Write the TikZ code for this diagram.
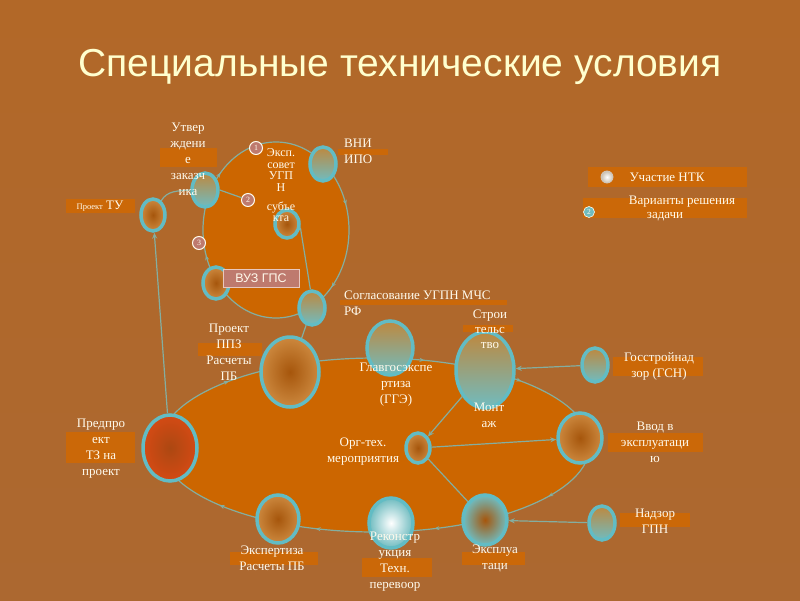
\documentclass[tikz,border=0pt]{standalone}
\usepackage{fontspec}
\setmainfont{Liberation Serif}
\newfontfamily\titlefont{Liberation Sans}
\newfontfamily\boxfont{Liberation Sans}
\usetikzlibrary{shapes.geometric,arrows.meta,decorations.markings}
\definecolor{bgA}{RGB}{178,104,40}
\definecolor{bgB}{RGB}{192,126,64}
\definecolor{bgC}{RGB}{172,104,48}
\definecolor{org}{RGB}{204,102,0}
\definecolor{barc}{RGB}{203,104,8}
\definecolor{tealb}{RGB}{98,188,196}
\definecolor{connc}{RGB}{132,174,160}
\definecolor{txt}{RGB}{255,250,236}
\definecolor{brin}{RGB}{166,86,12}
\definecolor{brout}{RGB}{204,136,62}
\definecolor{gold}{RGB}{190,136,62}
\definecolor{tealf}{RGB}{112,188,192}
\definecolor{redin}{RGB}{172,72,18}
\definecolor{redout}{RGB}{212,74,20}
\definecolor{mauve}{RGB}{190,122,110}
\definecolor{titlec}{RGB}{255,255,206}
\tikzset{
  bub/.style={ellipse, draw=tealb, line width=3.5pt, inner sep=0pt},
  sz/.style 2 args={minimum width=#1pt, minimum height=#2pt},
  brownb/.style={bub, inner color=brin, outer color=brout},
  goldb/.style={bub, top color=gold, bottom color=tealf},
  redb/.style={bub, inner color=redin, outer color=redout},
  bar/.style={fill=barc},
  lbl/.style={text=txt, align=center, font=\fontsize{13}{16}\selectfont, inner sep=0pt},
  connl/.style={draw=connc, line width=1.2pt},
  arr/.style={connl, -{Stealth[length=6pt,width=5pt]}},
  num/.style={circle, fill=mauve, draw=txt, line width=1pt, minimum size=13pt, inner sep=0pt, text=txt, font=\fontsize{8}{8}\selectfont},
  cyc/.style={connl, postaction={decorate}},
}
\begin{document}
\begin{tikzpicture}[x=1pt,y=-1pt]
\useasboundingbox (0,0) rectangle (800,600);
\shade[top color=bgA, middle color=bgB, bottom color=bgC] (0,0) rectangle (800,600);

\node[font=\titlefont\fontsize{39}{39}\selectfont, text=titlec, inner sep=0pt] (title) at (400,67) {Специальные технические условия};

% cycle ellipses
\fill[org] (276,230) ellipse (73 and 88);
\fill[org] (375,445) ellipse (215 and 87);
\draw[cyc, decoration={markings,
  mark=at position 0.12 with {\arrow{Stealth[length=5pt,width=4pt]}},
  mark=at position 0.45 with {\arrow{Stealth[length=5pt,width=4pt]}},
  mark=at position 0.62 with {\arrow{Stealth[length=5pt,width=4pt]}},
  mark=at position 0.95 with {\arrow{Stealth[length=5pt,width=4pt]}}}]
  (276,230) ellipse (73 and 88);
\draw[cyc, decoration={markings,
  mark=at position 0.07 with {\arrow{Stealth[length=5pt,width=4pt]}},
  mark=at position 0.19 with {\arrow{Stealth[length=5pt,width=4pt]}},
  mark=at position 0.31 with {\arrow{Stealth[length=5pt,width=4pt]}},
  mark=at position 0.41 with {\arrow{Stealth[length=5pt,width=4pt]}},
  mark=at position 0.60 with {\arrow{Stealth[length=5pt,width=4pt]}},
  mark=at position 0.80 with {\arrow{Stealth[length=5pt,width=4pt]}},
  mark=at position 0.90 with {\arrow{Stealth[length=5pt,width=4pt]}}}]
  (375,445) ellipse (215 and 87);

% bubbles
\node[goldb, sz={26}{34}] (utv) at (205,190) {};
\node[goldb, sz={26}{34}] (vni) at (323,164) {};
\node[brownb, sz={24}{28}] (subj) at (287,224) {};
\node[brownb, sz={26}{32}] (vuz) at (216,283) {};
\node[goldb, sz={26}{34}] (sogl) at (312,308) {};
\node[brownb, sz={24}{32}] (protu) at (153,215) {};
\node[redb, sz={54}{66}] (predpr) at (170,448) {};
\node[brownb, sz={58}{70}] (ppz) at (290,372) {};
\node[goldb, sz={46}{54}] (gge) at (390,348) {};
\node[goldb, sz={58}{76}] (stroi) at (485,370) {};
\node[goldb, sz={26}{34}] (gsn) at (595,365) {};
\node[brownb, sz={24}{30}] (mid) at (418,448) {};
\node[brownb, sz={44}{50}] (vvod) at (580,438) {};
\node[brownb, sz={42}{48}] (ekspert) at (278,519) {};
\node[bub, inner color=white, outer color=tealf, sz={44}{50}] (rekon) at (391,523) {};
\node[bub, inner color=brin, outer color=tealf, sz={44}{50}] (ekspl) at (485,520) {};
\node[goldb, sz={26}{34}] (nadzor) at (602,523) {};

% markers
\node[num] (n1) at (256,148) {1};
\node[num] (n2) at (248,200) {2};
\node[num] (n3) at (199,243) {3};

% connectors
\draw[arr] (predpr) -- (protu);
\draw[connl] (protu.60) to[out=60,in=185] (utv.west);
\draw[connl] (utv.east) -- (n2);
\draw[connl] (subj.-15) -- (sogl.95);
\draw[connl] (sogl) -- (ppz);
\draw[arr] (gsn) -- (stroi);
\draw[arr] (stroi) -- (mid);
\draw[arr] (mid) -- (vvod);
\draw[connl] (mid) -- (ekspl);
\draw[arr] (nadzor) -- (ekspl);

% VUZ box
\node[fill=mauve, draw={rgb,255:red,232;green,200;blue,190}, line width=1pt, minimum width=76pt, minimum height=18pt, inner sep=0pt, text=txt, font=\boxfont\fontsize{12.5}{12.5}\selectfont] (vuzbox) at (261,278) {ВУЗ ГПС};

% bars
\fill[bar] (160,148) rectangle (217,167);
\fill[bar] (66,199) rectangle (135,213);
\fill[bar] (338,149) rectangle (388,155);
\fill[bar] (340,300) rectangle (507,305);
\fill[bar] (463,325) rectangle (513,332);
\fill[bar] (198,343) rectangle (262,356);
\fill[bar] (66,432) rectangle (135,463);
\fill[bar] (613,357) rectangle (703,376);
\fill[bar] (608,433) rectangle (703,452);
\fill[bar] (620,513) rectangle (690,527);
\fill[bar] (230,552) rectangle (318,565);
\fill[bar] (362,558) rectangle (432,577);
\fill[bar] (462,552) rectangle (525,565);
\fill[bar] (588,167) rectangle (747,187);
\fill[bar] (583,198) rectangle (747,218);

% labels
\node[lbl] (t-utv) at (188,159) {Утвер\\ждени\\е\\заказч\\ика};
\node[lbl] (t-protu) at (100,206) {{\fontsize{8.5}{8.5}\selectfont Проект} ТУ};
\node[lbl, font=\fontsize{12}{11.5}\selectfont] (t-eksp) at (281,170) {Эксп.\\совет\\УГП\\Н};
\node[lbl, font=\fontsize{12}{11.5}\selectfont] (t-subj) at (281,212) {субъе\\кта};
\node[lbl, align=left, anchor=west] (t-vni) at (344,151) {ВНИ\\ИПО};
\node[lbl, align=left, anchor=west] (t-sogl) at (344,303) {Согласование УГПН МЧС\\РФ};
\node[lbl, font=\fontsize{13}{15}\selectfont] (t-stroi) at (490,329) {Строи\\тельс\\тво};
\node[lbl] (t-ppz) at (229,352) {Проект\\ППЗ\\Расчеты\\ПБ};
\node[lbl] (t-gge) at (396,385) {Главгосэкспе\\ртиза\\(ГГЭ)};
\node[lbl] (t-mont) at (489,415) {Монт\\аж};
\node[lbl] (t-org) at (363,452) {Орг-тех.\\мероприятия};
\node[lbl] (t-predpr) at (101,449) {Предпро\\ект\\ТЗ на\\проект};
\node[lbl] (t-gsn) at (659,366) {Госстройнад\\зор (ГСН)};
\node[lbl] (t-vvod) at (655,442) {Ввод в\\эксплуатаци\\ю};
\node[lbl] (t-nadzor) at (655,521) {Надзор\\ГПН};
\node[lbl] (t-ekspert) at (272,558) {Экспертиза\\Расчеты ПБ};
\node[lbl] (t-rekon) at (395,562) {Реконстр\\укция\\Техн.\\перевоор};
\node[lbl] (t-ekspl) at (495,558) {Эксплуа\\таци};

% legend
\node[circle, inner color=white, outer color={rgb,255:red,200;green,190;blue,175}, draw={rgb,255:red,210;green,200;blue,190}, line width=0.8pt, minimum size=12pt, inner sep=0pt] (leg1) at (607,177) {};
\node[lbl] (t-ntk) at (667,177) {Участие НТК};
\node[circle, fill=tealf, draw=txt, line width=0.6pt, minimum size=11pt, inner sep=0pt, text=txt, font=\fontsize{7.5}{7.5}\selectfont] (leg2) at (589,212) {2};
\node[lbl] (t-var1) at (682,202) {Варианты решения};
\node[lbl] (t-var2) at (665,217) {задачи};
\end{tikzpicture}
\end{document}
